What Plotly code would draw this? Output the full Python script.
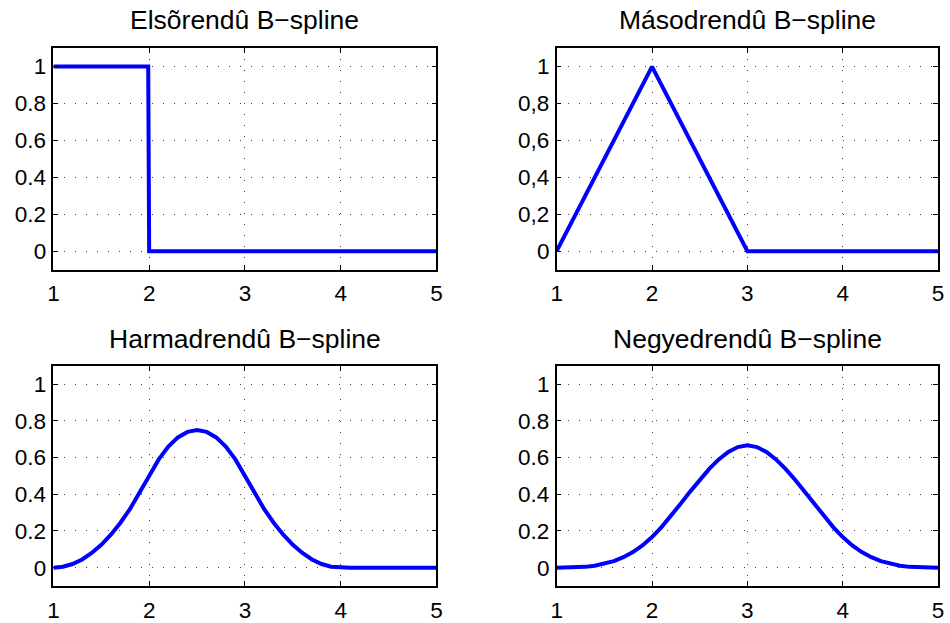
import plotly.graph_objects as go

# ---- data ----
titles = ["Elsõrendû B−spline", "Másodrendû B−spline",
          "Harmadrendû B−spline", "Negyedrendû B−spline"]

x1 = [1.0, 1.99, 2.0, 5.0]
y1 = [1.0, 1.0, 0.0, 0.0]

x2 = [1.0, 2.0, 3.0, 4.0, 5.0]
y2 = [0.0, 1.0, 0.0, 0.0, 0.0]

x34 = [1.0, 1.1, 1.2, 1.3, 1.4, 1.5, 1.6, 1.7, 1.8, 1.9,
       2.0, 2.1, 2.2, 2.3, 2.4, 2.5, 2.6, 2.7, 2.8, 2.9,
       3.0, 3.1, 3.2, 3.3, 3.4, 3.5, 3.6, 3.7, 3.8, 3.9,
       4.0, 4.1, 4.2, 4.3, 4.4, 4.5, 4.6, 4.7, 4.8, 4.9, 5.0]
y3 = [0.0, 0.005, 0.02, 0.045, 0.08, 0.125, 0.18, 0.245, 0.32, 0.405,
      0.5, 0.59, 0.66, 0.71, 0.74, 0.75, 0.74, 0.71, 0.66, 0.59,
      0.5, 0.405, 0.32, 0.245, 0.18, 0.125, 0.08, 0.045, 0.02, 0.005,
      0.0, 0.0, 0.0, 0.0, 0.0, 0.0, 0.0, 0.0, 0.0, 0.0, 0.0]
y4 = [0.0, 0.0002, 0.0013, 0.0045, 0.0107, 0.0208, 0.036, 0.0572, 0.0853, 0.1215,
      0.1667, 0.2212, 0.2827, 0.3482, 0.4147, 0.4792, 0.5387, 0.5902, 0.6307, 0.6572,
      0.6667, 0.6572, 0.6307, 0.5902, 0.5387, 0.4792, 0.4147, 0.3482, 0.2827, 0.2212,
      0.1667, 0.1215, 0.0853, 0.0572, 0.036, 0.0208, 0.0107, 0.0045, 0.0013, 0.0002, 0.0]

x_ticks = [1, 2, 3, 4, 5]
x_tick_labels = ["1", "2", "3", "4", "5"]
y_ticks = [0, 0.2, 0.4, 0.6, 0.8, 1]
y_tick_labels_dot = ["0", "0.2", "0.4", "0.6", "0.8", "1"]
y_tick_labels_comma = ["0", "0,2", "0,4", "0,6", "0,8", "1"]

# ---- figure ----
FONT = "Liberation Sans, Arial, Helvetica, sans-serif"
W, H = 950, 623
xdom = [[48 / W, 436 / W], [557.7 / W, 944 / W]]
ydom = [[1 - 272.7 / H, 1 - 48.7 / H], [1 - 592.7 / H, 1 - 370 / H]]

series = [(x1, y1), (x2, y2), (x34, y3), (x34, y4)]
ylabels = [y_tick_labels_dot, y_tick_labels_comma, y_tick_labels_dot, y_tick_labels_dot]

fig = go.Figure()
layout = dict(
    width=W, height=H, margin=dict(l=0, r=0, t=0, b=0),
    paper_bgcolor="white", plot_bgcolor="white", showlegend=False,
    font=dict(family=FONT, size=22, color="black"),
)
annotations = []
for i, (xs, ys) in enumerate(series):
    n = i + 1
    suffix = "" if n == 1 else str(n)
    fig.add_trace(go.Scatter(x=xs, y=ys, mode="lines",
                             line=dict(color="#0000ff", width=4),
                             xaxis="x" + suffix, yaxis="y" + suffix,
                             hoverinfo="skip"))
    col, row = i % 2, i // 2
    common = dict(showline=True, linecolor="black", linewidth=1.5, mirror="ticks",
                  ticks="inside", ticklen=5, tickcolor="black", tickwidth=1,
                  showgrid=True, gridcolor="#444444", gridwidth=1,
                  griddash="1px,10px", zeroline=False,
                  tickfont=dict(family=FONT, size=22.5, color="black"))
    layout["xaxis" + suffix] = dict(common, domain=xdom[col], range=[1, 5],
                                    tickvals=x_ticks, ticktext=x_tick_labels,
                                    ticklabelstandoff=3,
                                    anchor="y" + suffix)
    layout["yaxis" + suffix] = dict(common, domain=ydom[row], range=[-0.1, 1.1],
                                    tickvals=y_ticks, ticktext=ylabels[i],
                                    ticklabelstandoff=1,
                                    anchor="x" + suffix)
    annotations.append(dict(text=titles[i], xref="paper", yref="paper",
                            x=(xdom[col][0] + xdom[col][1]) / 2,
                            y=[1 - 20 / H, 1 - 343 / H][row],
                            xanchor="center", yanchor="middle", showarrow=False,
                            font=dict(family=FONT, size=26.5, color="black")))
layout["annotations"] = annotations
fig.update_layout(**layout)
fig.write_html("out.html", config={"displayModeBar": False},
               post_script="document.body.style.margin='0';document.body.style.overflow='hidden';")
